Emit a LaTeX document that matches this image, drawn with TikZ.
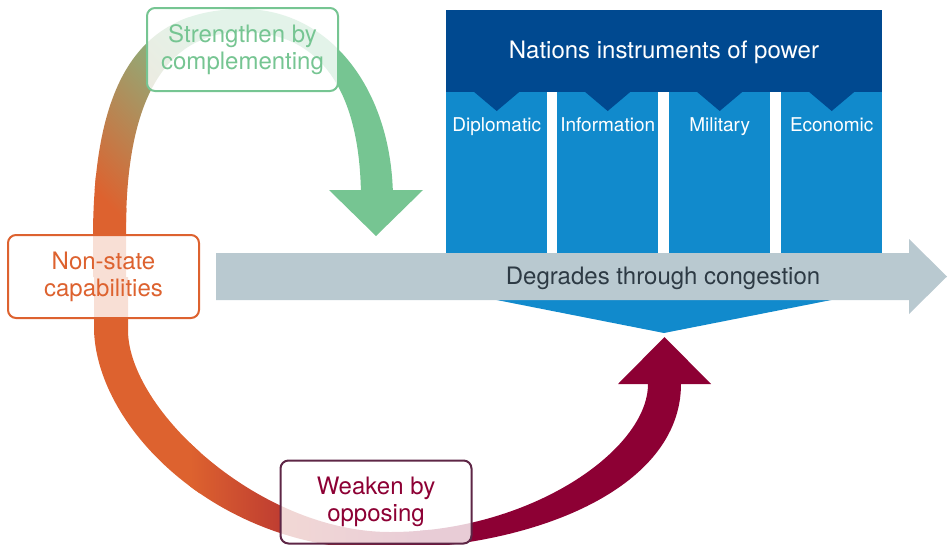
\documentclass[tikz,border=0pt]{standalone}
\usepackage{fontspec}
\setmainfont{TeX Gyre Heros}
\definecolor{navy}{RGB}{0,73,144}
\definecolor{colblue}{RGB}{17,138,204}
\definecolor{grayA}{RGB}{185,201,208}
\definecolor{textgray}{RGB}{45,58,68}
\definecolor{greenC}{RGB}{118,197,146}
\definecolor{orangeC}{RGB}{221,98,47}
\definecolor{maroonC}{RGB}{141,0,52}
\definecolor{weakB}{RGB}{94,38,70}
\begin{document}
\begin{tikzpicture}[x=1pt,y=1pt,
  bigtxt/.style={font=\fontsize{24}{27}\selectfont},
  coltxt/.style={font=\fontsize{19}{22}\selectfont, text=white, anchor=base},
  colbox/.style={fill=colblue, minimum width=101pt, minimum height=161pt, inner sep=0pt, anchor=north west},
  roundbox/.style={rounded corners=8pt, line width=2pt, fill=white, fill opacity=0.8, text opacity=1,
    minimum width=191pt, minimum height=83pt, inner sep=0pt, align=center, font=\fontsize{24}{27}\selectfont}]
\useasboundingbox (0,0) rectangle (951,-544);

% ---------- Instruments of power block ----------
\node[fill=navy, minimum width=436pt, minimum height=82pt, inner sep=0pt, anchor=north west] (top) at (446,-10) {};
\node[bigtxt, text=white, anchor=base] (title) at (664,-58) {Nations instruments of power};

\fill[colblue] (446,-290) -- (882,-290) -- (664,-333) coordinate (tip) -- cycle;

\foreach \n/\x/\t in {c1/446/Diplomatic, c2/557/Information, c3/669/Military, c4/781/Economic}{
  \node[colbox] (\n) at (\x,-92) {};
  \fill[navy] (\n.north) ++(-22.5,0) -- ++(45,0) -- ++(-22.5,-19) -- cycle;
  \node[coltxt] (\n t) at ([yshift=-39.5pt]\n.north) {\t};
}

% ---------- Grey arrow ----------
\fill[grayA] (216,-253) -- (909,-253) -- (909,-239) -- (947,-276.5) -- (909,-314) -- (909,-300) -- (216,-300) -- cycle;
\node[bigtxt, text=textgray, anchor=base] (deg) at (663,-284) {Degrades through congestion};

% ---------- Upper (green) band ----------
\begin{scope}
  \clip (93,-277) -- (93,-230) .. controls (95,-80) and (140,-9) .. (243,-9)
        .. controls (330,-9) and (393,-90) .. (393,-200) -- (361,-200)
        .. controls (361,-90) and (320,-32) .. (243,-32)
        .. controls (165,-32) and (126,-100) .. (126,-230) -- (126,-277) -- cycle;
  \begin{scope}[transform canvas={rotate around={43.7:(100,-250)}}]
    \fill[orangeC] (-400,-800) rectangle (148,300);
    \fill[greenC] (315,-800) rectangle (900,300);
    \shade[left color=orangeC, right color=greenC] (138,-800) rectangle (325,300);
  \end{scope}
\end{scope}
\fill[greenC] (329,-190) -- (423,-190) -- (376,-236) coordinate (gtip) -- cycle;

% ---------- Lower (maroon) band ----------
\begin{scope}
  \clip (94,-277) -- (94,-330) .. controls (97,-430) and (220,-549) .. (380,-549)
        .. controls (530,-549) and (681,-490) .. (681,-384) -- (648,-384)
        .. controls (648,-450) and (530,-532) .. (390,-532)
        .. controls (260,-532) and (128,-410) .. (128,-330) -- (128,-277) -- cycle;
  \fill[orangeC] (0,-200) rectangle (200,-560);
  \fill[maroonC] (420,-200) rectangle (720,-560);
  \shade[left color=orangeC, right color=maroonC] (190,-200) rectangle (430,-560);
\end{scope}
\fill[maroonC] (618,-384) -- (711,-384) -- (664.5,-337) coordinate (mtip) -- cycle;

% ---------- Label boxes ----------
\node[roundbox, draw=greenC, text=greenC] (strength) at (242.5,-49.5) {Strengthen by\\complementing};
\node[roundbox, draw=orangeC, text=orangeC] (nonstate) at (103.5,-276.5) {Non-state\\capabilities};
\node[roundbox, draw=weakB, text=maroonC] (weaken) at (376,-502) {Weaken by\\opposing};
\end{tikzpicture}
\end{document}
